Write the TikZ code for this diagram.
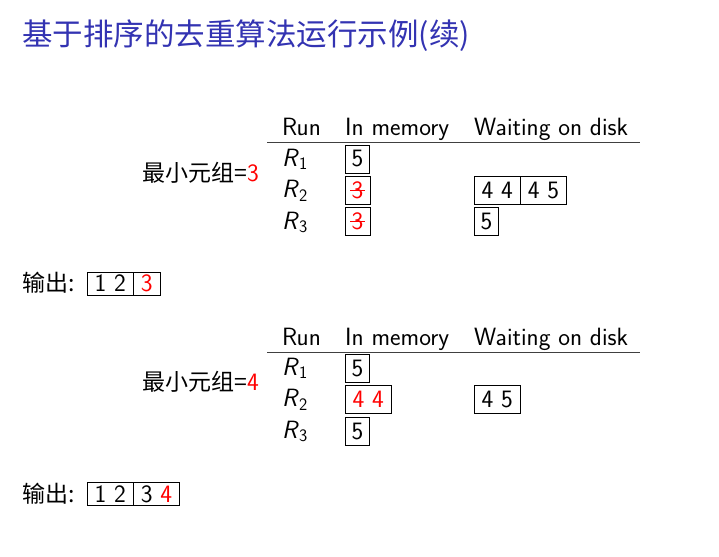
\documentclass[tikz,border=0pt]{standalone}
\usepackage{fontspec}
\newfontfamily\cjk{Noto Sans CJK SC}
\usetikzlibrary{positioning}
\definecolor{titleblue}{rgb}{0.2,0.2,0.7}
\newcommand{\struck}[1]{\rlap{#1}\kern-0.05em\rule[0.3em]{0.6em}{0.06em}\kern-0.05em}
\newcommand{\run}[1]{\textit{R}\textsubscript{#1}}

\begin{document}
\begin{tikzpicture}[x=1pt, y=-1pt,
  txt/.style={font=\fontsize{25}{29}\selectfont\sffamily, inner sep=0, anchor=base west},
  cell/.style={draw, line width=0.8pt, inner xsep=6.5pt, inner ysep=0, minimum height=28pt, outer sep=0, anchor=west, font=\fontsize{25}{29}\selectfont\sffamily},
  outcell/.style={cell, inner xsep=7.5pt, minimum height=23pt},
  lab/.style={font=\fontsize{23}{27}\selectfont\cjk, inner sep=0, anchor=base east},
  hrule/.style={line width=1pt, draw=black!75}]
\path[fill=white, use as bounding box] (0,0) rectangle (719,556);
\node[font=\fontsize{30.5}{35}\selectfont\cjk, text=titleblue, anchor=base west, inner sep=0] (title) at (22,46) {基于排序的去重算法运行示例(续)};

% first step
\node[txt] (run1) at (282,136) {Run};
\node[txt] (mem1) at (345,136) {In memory};
\node[txt] (disk1) at (474,136) {Waiting on disk};
\coordinate (l1) at (267,143);
\coordinate (r1) at (640,143);
\draw[hrule] (l1) -- (r1);
\node[txt] (ra1) at (282,166) {\run{1}};
\node[txt] (rb1) at (282,197.5) {\run{2}};
\node[txt] (rc1) at (282,229) {\run{3}};
\node[cell] (ma1) at (345,159) {5};
\node[cell] (mb1) at (345,190.5) {\textcolor{red}{\struck{3}}};
\node[cell] (mc1) at (345,221.5) {\textcolor{red}{\struck{3}}};
\node[cell, inner xsep=7.5pt] (db1) at (474,190.5) {4 4};
\node[cell, inner xsep=7.5pt, right=0pt of db1] (dbb1) {4 5};
\node[cell] (dc1) at (474,221.5) {5};
\node[lab] (min1) at (259,181) {最小元组=\textcolor{red}{\sffamily\fontsize{25}{29}\selectfont 3}};
\node[lab, anchor=base west] (out1) at (22,291) {输出:};
\node[outcell] (oa1) at (87,283.5) {1 2};
\node[outcell, right=0pt of oa1] (ob1) {\textcolor{red}{3}};

% second step
\node[txt] (run2) at (282,345) {Run};
\node[txt] (mem2) at (345,345) {In memory};
\node[txt] (disk2) at (474,345) {Waiting on disk};
\coordinate (l2) at (267,352);
\coordinate (r2) at (640,352);
\draw[hrule] (l2) -- (r2);
\node[txt] (ra2) at (282,375) {\run{1}};
\node[txt] (rb2) at (282,406.5) {\run{2}};
\node[txt] (rc2) at (282,438) {\run{3}};
\node[cell] (ma2) at (345,368) {5};
\node[cell, inner xsep=7.5pt] (mb2) at (345,399.5) {\textcolor{red}{4 4}};
\node[cell] (mc2) at (345,431.5) {5};
\node[cell, inner xsep=7.5pt] (db2) at (474,399.5) {4 5};
\node[lab] (min2) at (259,390) {最小元组=\textcolor{red}{\sffamily\fontsize{25}{29}\selectfont 4}};
\node[lab, anchor=base west] (out2) at (22,502) {输出:};
\node[outcell] (oa2) at (87,494) {1 2};
\node[outcell, right=0pt of oa2] (ob2) {3 \textcolor{red}{4}};
\end{tikzpicture}
\end{document}
